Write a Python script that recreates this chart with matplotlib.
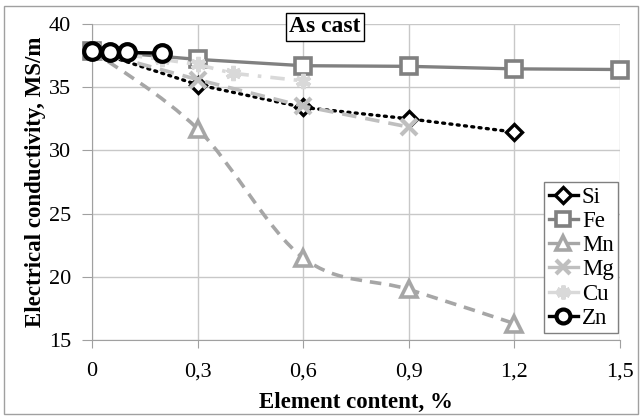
import numpy as np
import matplotlib
matplotlib.use('Agg')
import matplotlib.pyplot as plt
from matplotlib.path import Path
from matplotlib.patches import PathPatch, Rectangle
from matplotlib.lines import Line2D
from matplotlib.ticker import FuncFormatter

plt.rcParams['font.family'] = 'Liberation Serif'

# data
si_x = [0, 0.3, 0.6, 0.9, 1.2]
si_y = [37.9, 35.2, 33.4, 32.5, 31.45]
fe_x = [0, 0.3, 0.6, 0.9, 1.2, 1.5]
fe_y = [37.9, 37.2, 36.7, 36.65, 36.45, 36.4]
mn_x = [0, 0.3, 0.6, 0.9, 1.2]
mn_y = [37.9, 31.7, 21.5, 19.0, 16.3]
mg_x = [0, 0.3, 0.6, 0.9]
mg_y = [37.9, 35.6, 33.5, 31.85]
cu_x = [0, 0.2, 0.3, 0.4, 0.6]
cu_y = [37.9, 37.2, 36.8, 36.1, 35.5]
zn_x = [0, 0.05, 0.1, 0.2]
zn_y = [37.9, 37.8, 37.75, 37.7]

x_ticks = [0, 0.3, 0.6, 0.9, 1.2, 1.5]
y_ticks = [15, 20, 25, 30, 35, 40]


def smooth_path(xs, ys, t=1/6):
    # Excel-style smoothed line: cubic bezier through the data points
    pts = np.column_stack([xs, ys])
    verts = [pts[0]]
    codes = [Path.MOVETO]
    n = len(pts)
    for i in range(n - 1):
        p0 = pts[i - 1] if i > 0 else pts[i]
        p1 = pts[i]
        p2 = pts[i + 1]
        p3 = pts[i + 2] if i + 2 < n else pts[i + 1]
        c1 = p1 + (p2 - p0) * t
        c2 = p2 - (p3 - p1) * t
        verts += [c1, c2, p2]
        codes += [Path.CURVE4] * 3
    return Path(verts, codes)


fig = plt.figure(figsize=(6.42, 4.17), dpi=100)
ax = fig.add_axes([92 / 642, 1 - 340 / 417, 528 / 642, 316 / 417])

c_fe = '#808080'
c_mn = '#a6a6a6'
c_mg = '#bfbfbf'
c_cu = '#d9d9d9'

ax.plot(si_x, si_y, color='black', lw=2.4, ls=(0, (0.6, 1.6)),
        dash_capstyle='round', marker='D', ms=8, mfc='white', mec='black',
        mew=2.4, label='Si', zorder=3)
ax.plot(fe_x, fe_y, color=c_fe, lw=2.4, marker='s', ms=11, mfc='white',
        mec=c_fe, mew=2.6, label='Fe', zorder=3, clip_on=False)

# Mn: smoothed dashed line
mn_patch = PathPatch(smooth_path(mn_x, mn_y), fill=False, ec=c_mn, lw=2.6,
                     ls=(0, (3.2, 2.2)), zorder=3)
ax.add_patch(mn_patch)
ax.plot(mn_x, mn_y, ls='none', marker='^', ms=11, mfc='white', mec=c_mn,
        mew=2.6, zorder=3)

ax.plot(mg_x, mg_y, color=c_mg, lw=2.6, ls=(0, (4, 2.5)), marker='x', ms=11,
        mec=c_mg, mew=3, label='Mg', zorder=3)
ax.plot(cu_x, cu_y, color=c_cu, lw=2.6, ls=(0, (4, 2.5, 1, 2.5)),
        marker=(6, 2, 0), ms=11, mec=c_cu, mew=3, label='Cu', zorder=3)
ax.plot(zn_x, zn_y, color='black', lw=2.4, marker='o', ms=12, mfc='white',
        mec='black', mew=3, label='Zn', zorder=4, clip_on=False)

ax.set_xlim(0, 1.5)
ax.set_ylim(15, 40)
ax.set_xticks(x_ticks)
ax.set_yticks(y_ticks)
ax.xaxis.set_major_formatter(FuncFormatter(lambda v, p: ('%g' % v).replace('.', ',')))
ax.tick_params(labelsize=16, color='#a0a0a0')
ax.tick_params(axis='x', length=6, pad=10)
ax.tick_params(axis='y', length=7, pad=8)
ax.grid(True, color='#c8c8c8', lw=1)
for s in ['top', 'right']:
    ax.spines[s].set_visible(False)
for s in ['left', 'bottom']:
    ax.spines[s].set_color('#a0a0a0')

ax.set_xlabel('Element content, %', fontsize=16.5, fontweight='bold', labelpad=8)
ax.set_ylabel('Electrical conductivity, MS/m', fontsize=16.5, fontweight='bold',
              labelpad=2)

fig.text(325 / 642, 1 - 27 / 417, 'As cast', fontsize=17,
         fontweight='bold', ha='center', va='center',
         bbox=dict(boxstyle='square,pad=0.15', fc='white', ec='black', lw=1))

handles = [
    Line2D([], [], color='black', lw=2.4, marker='D', ms=8, mfc='white', mec='black', mew=2.4),
    Line2D([], [], color=c_fe, lw=2.4, marker='s', ms=10, mfc='white', mec=c_fe, mew=2.6),
    Line2D([], [], color=c_mn, lw=2.4, marker='^', ms=10, mfc='white', mec=c_mn, mew=2.6),
    Line2D([], [], color=c_mg, lw=2.4, marker='x', ms=10, mec=c_mg, mew=3),
    Line2D([], [], color=c_cu, lw=2.4, marker=(6, 2, 0), ms=10, mec=c_cu, mew=3),
    Line2D([], [], color='black', lw=2.4, marker='o', ms=10, mfc='white', mec='black', mew=3),
]
labels = ['Si', 'Fe', 'Mn', 'Mg', 'Cu', 'Zn']
leg = ax.legend(handles, labels, loc='upper left', bbox_to_anchor=(544 / 642, 1 - 182 / 417),
                bbox_transform=fig.transFigure, fontsize=16.5, frameon=True,
                fancybox=False, edgecolor='#808080', framealpha=1,
                handlelength=1.3, handletextpad=0.15, borderpad=0.2,
                labelspacing=0.14, borderaxespad=0)
leg.get_frame().set_linewidth(1)

fig.patches.append(Rectangle((4 / 642, 3 / 417), 634 / 642, 408 / 417,
                             transform=fig.transFigure, fill=False,
                             ec='#a0a0a0', lw=1))

fig.savefig('out.png', dpi=100)
